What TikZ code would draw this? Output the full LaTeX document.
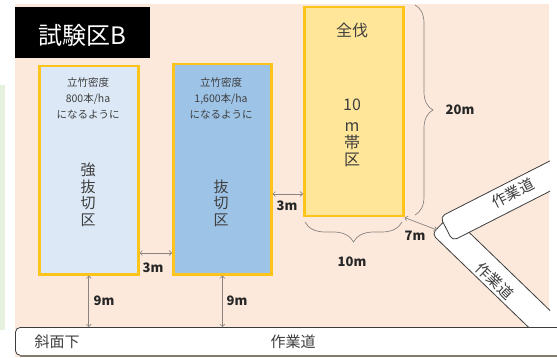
\documentclass[tikz,border=0pt]{standalone}
\usepackage{fontspec}
\newfontfamily\jp{Noto Sans CJK JP}
\usetikzlibrary{arrows.meta,decorations.pathreplacing}
\definecolor{peach}{HTML}{FCE9DC}
\definecolor{palegreen}{HTML}{E6F1DD}
\definecolor{lblue}{HTML}{DCE8F6}
\definecolor{mblue}{HTML}{9DC3E6}
\definecolor{lyellow}{HTML}{FFE699}
\definecolor{gold}{HTML}{FFC419}
\definecolor{dimgray}{HTML}{8A8480}
\definecolor{txt}{HTML}{3F3F3F}
\definecolor{roadline}{HTML}{3C3C3C}
\definecolor{roadbase}{HTML}{857A70}
\begin{document}
\begin{tikzpicture}[x=1pt,y=-1pt,
  plot/.style={draw=gold, line width=2.5pt, inner sep=0pt},
  road/.style={draw=roadline, fill=white, line width=0.8pt, rounded corners=5pt, inner sep=0pt, minimum height=27pt},
  dim/.style={draw=dimgray, line width=0.7pt, {Straight Barb[length=2.5pt,width=5pt]}-{Straight Barb[length=2.5pt,width=5pt]}},
  dimlab/.style={font=\jp\bfseries\fontsize{13}{13}\selectfont, text=black!85, inner sep=1pt},
  small/.style={font=\jp\fontsize{10.5}{16}\selectfont, text=txt, align=center},
  big/.style={font=\jp\fontsize{15}{16.5}\selectfont, text=txt, align=center},
  roadtxt/.style={font=\jp\fontsize{15}{15}\selectfont, text=txt},
  curly/.style={draw=dimgray, line width=0.7pt, decorate, decoration={brace, amplitude=#1}},
]
\useasboundingbox (0,0) rectangle (557,358);
\fill[peach] (15,4) rectangle (549,357);
\fill[palegreen] (0,85) rectangle (5,330);

% title
\node[fill=black, minimum width=135pt, minimum height=51pt, anchor=north west, inner sep=0pt] (title) at (15,7) {};
\node[font=\jp\fontsize{24}{24}\selectfont, text=white] (titletxt) at (82,35) {試験区B};

% plots
\node[plot, fill=lblue, minimum width=99pt, minimum height=208pt, anchor=north west] (box1) at (38,65) {};
\node[plot, fill=mblue, minimum width=98pt, minimum height=210pt, anchor=north west] (box2) at (172,63) {};
\node[plot, fill=lyellow, minimum width=99pt, minimum height=209pt, anchor=north west] (box3) at (303,6) {};

\node[small] (t1) at (88,98) {立竹密度\\800本/ha\\になるように};
\node[big] (v1) at (88,195) {強\\抜\\切\\区};
\node[small] (t2) at (221,98) {立竹密度\\1,600本/ha\\になるように};
\node[big] (v2) at (221,203) {抜\\切\\区};
\node[font=\jp\fontsize{16}{16}\selectfont, text=txt] (t3) at (352,30) {全伐};
\node[font=\jp\fontsize{16}{17}\selectfont, text=txt, align=center] (v3) at (352,133) {10\\[4pt]m\\帯\\区};

% roads
\begin{scope}
\clip (0,0) rectangle (550,358);
\node[road, minimum width=200pt, rotate=-44, anchor=west] (roadB) at (441,224) {};
\node[road, minimum width=200pt, rotate=27, anchor=west] (roadA) at (446,229) {};
\end{scope}
\node[road, minimum width=560pt, minimum height=28pt, anchor=north west] (road) at (15,327) {};
\draw[roadbase, line width=1.6pt] ([xshift=5pt]road.south west) -- (road.south east);

\node[roadtxt] (slope) at (57,342) {斜面下};
\node[roadtxt] (roadlab) at (293,342) {作業道};
\node[roadtxt, rotate=27] (roadAlab) at (513,193) {作業道};
\node[roadtxt, rotate=-44] (roadBlab) at (495,281) {作業道};

% dimensions
\coordinate (y3a) at (0,253);
\draw[dim] (box1.east |- y3a) -- (box2.west |- y3a);
\node[dimlab] (l3a) at (153,268) {3m};
\coordinate (y3b) at (0,194);
\draw[dim] (box2.east |- y3b) -- (box3.west |- y3b);
\node[dimlab] (l3b) at (287,206) {3m};
\draw[dim] (box1.south) -- (box1.south |- road.north);
\node[dimlab] (l9a) at (104,301) {9m};
\draw[dim] (box2.south) -- (box2.south |- road.north);
\node[dimlab] (l9b) at (237,301) {9m};
\coordinate (p7) at (437,230);
\draw[dim] (box3.south east) -- (p7);
\node[dimlab] (l7) at (415,236) {7m};

% braces
\coordinate (bt) at (415,5);
\coordinate (bb) at (415,215);
\draw[curly=18pt] (bt) -- (bb);
\node[dimlab] (l20) at (460,110) {20m};
\coordinate (bl) at (305,222);
\coordinate (br) at (402,222);
\draw[curly=20pt] (br) -- (bl);
\node[dimlab] (l10) at (352,262) {10m};
\end{tikzpicture}
\end{document}
